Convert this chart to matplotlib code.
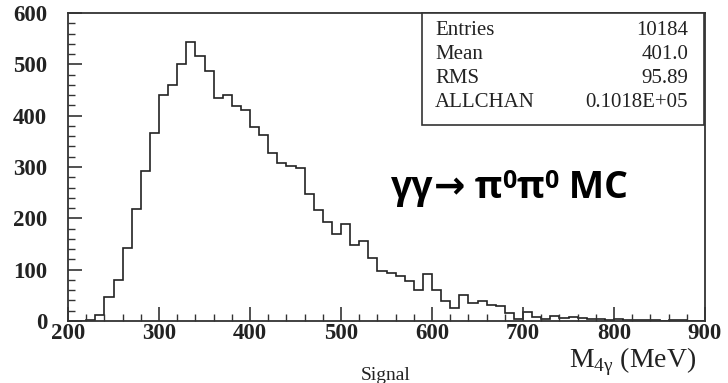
import matplotlib.pyplot as plt
import numpy as np
from matplotlib.ticker import MultipleLocator
from matplotlib.patches import Rectangle

# bin edges (MeV) and counts
edges = np.arange(200, 910, 10)
counts = [0, 0, 2, 12, 47, 80, 142, 219, 293, 366,
          441, 460, 500, 543, 516, 487, 434, 441, 418, 412,
          377, 363, 328, 307, 302, 299, 248, 217, 193, 169,
          188, 149, 155, 123, 97, 93, 88, 77, 61, 92,
          61, 39, 25, 50, 35, 38, 31, 30, 15, 3,
          17, 7, 3, 10, 5, 7, 5, 4, 3, 2,
          3, 2, 1, 2, 1, 0, 1, 1, 0, 0]

stat_names = ["Entries", "Mean", "RMS", "ALLCHAN"]
stat_values = ["10184", "401.0", "95.89", "0.1018E+05"]

xticks = [200, 300, 400, 500, 600, 700, 800, 900]
yticks = [0, 100, 200, 300, 400, 500, 600]

W, H = 728, 383
fig = plt.figure(figsize=(W/100, H/100), dpi=100)
ax = fig.add_axes([68/W, 1-321/H, (705-68)/W, (321-13)/H])

ax.stairs(counts, edges, color='#222222', linewidth=1.2)

ax.set_xlim(200, 900)
ax.set_ylim(0, 600)
ax.set_xticks(xticks)
ax.set_yticks(yticks)
ax.xaxis.set_minor_locator(MultipleLocator(20))
ax.yaxis.set_minor_locator(MultipleLocator(20))
ax.tick_params(which='major', direction='in', length=10, width=1.2,
               labelsize=16.5, color='#333333')
ax.tick_params(axis='y', which='major', pad=15)
ax.tick_params(axis='x', which='major', pad=1.5)
ax.tick_params(which='minor', direction='in', length=5, width=1.0, color='#333333')
for lab in ax.get_xticklabels() + ax.get_yticklabels():
    lab.set_fontfamily('Liberation Serif')
    lab.set_fontweight('bold')
    lab.set_color('#222222')
for s in ax.spines.values():
    s.set_linewidth(1.3)
    s.set_color('#333333')

# stats box
box = Rectangle((422/W, 1-125/H), (704-422)/W, (125-13)/H,
                transform=fig.transFigure, facecolor='white',
                edgecolor='#333333', linewidth=1.2, zorder=5)
fig.add_artist(box)
for i, (n, v) in enumerate(zip(stat_names, stat_values)):
    yb = 1 - (35 + 24*i)/H
    fig.text(435/W, yb, n, family='Liberation Serif', fontsize=15,
             va='baseline', ha='left', color='#222222', zorder=6)
    fig.text(688/W, yb, v, family='Liberation Serif', fontsize=15,
             va='baseline', ha='right', color='#222222', zorder=6)

# process label, drawn piece by piece
renderer = fig.canvas.get_renderer()
parts = [("γγ", 'Open Sans', 27, 0),
         ("→", 'DejaVu Sans', 27, 0),
         (" π", 'Open Sans', 27, 0),
         ("0", 'Open Sans', 18, 10),
         ("π", 'Open Sans', 27, 0),
         ("0", 'Open Sans', 18, 10),
         (" MC", 'Open Sans', 27, 0)]
x = 391
for s, fam, fs, dy in parts:
    t = fig.text(x/W, 1-(198-dy)/H, s, family=fam, fontweight='bold',
                 fontsize=fs, ha='left', va='baseline', color='black')
    x += t.get_window_extent(renderer).width

fig.text(633/W, 1-367/H, r"M$_{\mathregular{4γ}}$ (MeV)",
         family='Liberation Serif', fontsize=20, ha='center', va='baseline',
         color='#222222')
fig.text(386/W, 1-380/H, "Signal", family='Liberation Serif', fontsize=14,
         ha='center', va='baseline', color='#222222')

fig.savefig("out.png", dpi=100)
